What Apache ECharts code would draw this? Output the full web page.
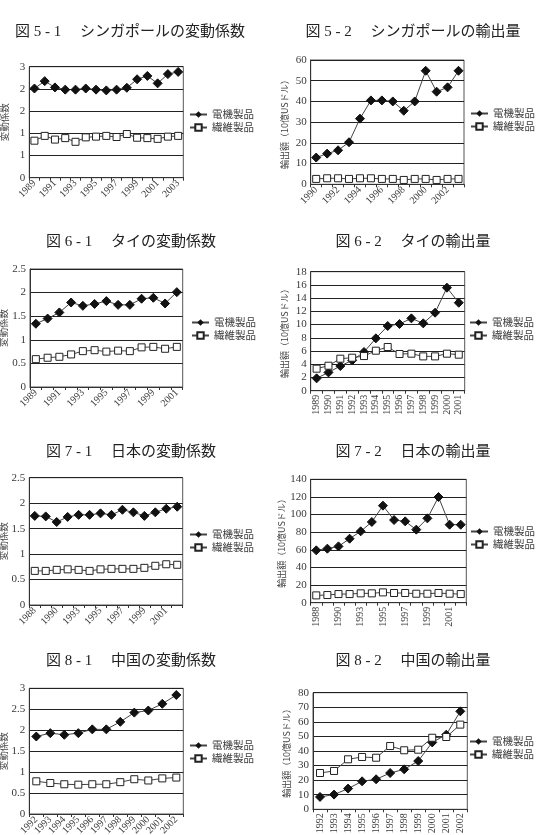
<!DOCTYPE html>
<html><head><meta charset="utf-8">
<script src="https://cdn.jsdelivr.net/npm/echarts@6/dist/echarts.min.js"></script>
<style>html,body{margin:0;padding:0;background:#fff}#c{width:538px;height:835px}</style>
</head><body><div id="c"></div>
<script>
// ---- data ----
const seriesNames = ['電機製品', '繊維製品'];
const titles = [
  '図 5 - 1　 シンガポールの変動係数', '図 5 - 2　 シンガポールの輸出量',
  '図 6 - 1　 タイの変動係数', '図 6 - 2　 タイの輸出量',
  '図 7 - 1　 日本の変動係数', '図 7 - 2　 日本の輸出量',
  '図 8 - 1　 中国の変動係数', '図 8 - 2　 中国の輸出量'
];
const yNameCV = '変動係数';
const yNameExp = '輸出額（10億USドル）';

const yearsSG51 = ['1989','1990','1991','1992','1993','1994','1995','1996','1997','1998','1999','2000','2001','2002','2003'];
const yearsSG52 = ['1990','1991','1992','1993','1994','1995','1996','1997','1998','1999','2000','2001','2002','2003'];
const yearsTH = ['1989','1990','1991','1992','1993','1994','1995','1996','1997','1998','1999','2000','2001'];
const yearsJP = ['1988','1989','1990','1991','1993','1994','1995','1996','1997','1998','1999','2000','2001','2002'];
const yearsCN = ['1992','1993','1994','1995','1996','1997','1998','1999','2000','2001','2002'];

const sgCvElec = [2.41,2.61,2.44,2.38,2.38,2.41,2.38,2.36,2.38,2.43,2.66,2.75,2.55,2.80,2.86];
const sgCvTex  = [1.00,1.13,1.03,1.07,0.97,1.09,1.11,1.13,1.10,1.18,1.08,1.07,1.05,1.11,1.13];
const sgExpElec = [12.9,14.8,16.4,20.3,31.7,40.5,40.5,40.0,35.5,40.0,54.8,44.7,46.8,54.8];
const sgExpTex  = [2.6,2.9,2.9,2.6,2.9,2.9,2.6,2.6,2.1,2.6,2.6,2.1,2.6,2.6];
const thCvElec = [1.34,1.45,1.58,1.79,1.72,1.76,1.82,1.74,1.74,1.87,1.89,1.77,2.01];
const thCvTex  = [0.59,0.62,0.64,0.69,0.76,0.78,0.75,0.77,0.76,0.84,0.85,0.81,0.85];
const thExpElec = [1.87,2.77,3.73,4.59,5.85,7.92,9.78,10.09,10.94,10.19,11.8,15.58,13.31];
const thExpTex  = [3.33,3.78,4.84,4.99,5.24,6.05,6.61,5.55,5.6,5.19,5.19,5.6,5.45];
const jpCvElec = [1.75,1.74,1.63,1.73,1.77,1.77,1.80,1.77,1.87,1.82,1.75,1.82,1.89,1.93];
const jpCvTex  = [0.67,0.67,0.69,0.70,0.69,0.67,0.70,0.71,0.71,0.71,0.73,0.77,0.80,0.79];
const jpExpElec = [59.4,61.3,63.9,72.6,81.0,91.6,110.1,93.8,92.3,82.9,95.7,119.9,88.5,88.5];
const jpExpTex  = [8.3,8.7,9.8,9.8,10.6,10.6,11.7,11.0,11.0,10.2,10.2,11.0,10.2,9.8];
const cnCvElec = [1.85,1.93,1.89,1.93,2.02,2.02,2.20,2.42,2.47,2.63,2.84];
const cnCvTex  = [0.78,0.74,0.71,0.70,0.71,0.71,0.76,0.83,0.80,0.85,0.87];
const cnExpElec = [8.5,10.1,14.2,19.2,20.6,24.9,27.4,33.1,45.9,51.2,67.2];
const cnExpTex  = [24.9,26.3,34.3,35.9,35.4,43.4,40.5,40.9,49.1,49.6,58.1];

// y-axis scales: [min, max, interval]
const yScales = [[0,3,0.6],[0,60,10],[0,2.5,0.5],[0,18,2],[0,2.5,0.5],[0,140,20],[0,3,0.5],[0,80,10]];

// ---- layout ----
const panels = [
  {cats: yearsSG51, elec: sgCvElec, tex: sgCvTex, yName: yNameCV, grid:[29.3,66.7,154,111], tx:125, ty:20, rot:45, ivl:1, lg:[189,109]},
  {cats: yearsSG52, elec: sgExpElec, tex: sgExpTex, yName: yNameExp, grid:[310.7,60,153.3,124.3], tx:408, ty:20, rot:45, ivl:1, lg:[470,108]},
  {cats: yearsTH, elec: thCvElec, tex: thCvTex, yName: yNameCV, grid:[30,269,152.7,118], tx:126, ty:230, rot:45, ivl:1, lg:[191,317]},
  {cats: yearsTH, elec: thExpElec, tex: thExpTex, yName: yNameExp, grid:[310.7,271.7,154,119], tx:408, ty:230, rot:90, ivl:0, lg:[469,317]},
  {cats: yearsJP, elec: jpCvElec, tex: jpCvTex, yName: yNameCV, grid:[29.3,477.7,153.4,127.3], tx:126, ty:440, rot:45, ivl:1, lg:[189,529]},
  {cats: yearsJP, elec: jpExpElec, tex: jpExpTex, yName: yNameExp, grid:[310.7,479.3,155.6,123.4], tx:408, ty:440, rot:90, ivl:1, lg:[470,526]},
  {cats: yearsCN, elec: cnCvElec, tex: cnCvTex, yName: yNameCV, grid:[29.3,688.3,154,125.7], tx:126, ty:649, rot:45, ivl:0, lg:[189,740]},
  {cats: yearsCN, elec: cnExpElec, tex: cnExpTex, yName: yNameExp, grid:[313,692.7,154.3,116.6], tx:408, ty:649, rot:90, ivl:0, lg:[469,736]}
];

const serif = "'Liberation Serif', 'Noto Sans CJK JP', serif";
const cjk = "'Noto Sans CJK JP', sans-serif";
const textCol = '#3a3a3a';

const option = {
  backgroundColor: '#fff',
  animation: false,
  title: [], grid: [], xAxis: [], yAxis: [], legend: [], series: []
};

panels.forEach((p, i) => {
  option.title.push({
    text: titles[i], left: p.tx, top: p.ty, textAlign: 'center',
    textStyle: {fontFamily: serif, fontSize: 15, fontWeight: 'normal', color: '#222'}
  });
  option.grid.push({
    left: p.grid[0], top: p.grid[1], width: p.grid[2], height: p.grid[3],
    show: true, borderColor: '#555', borderWidth: 1, backgroundColor: 'transparent',
    containLabel: false, outerBoundsMode: 'none'
  });
  option.xAxis.push({
    type: 'category', gridIndex: i, data: p.cats, boundaryGap: true,
    axisLine: {show: true, lineStyle: {color: '#333', width: 1}},
    axisTick: {show: true, interval: 0, length: 3, lineStyle: {color: '#333'}},
    axisLabel: {interval: p.ivl, rotate: p.rot, margin: 4, fontFamily: serif, fontSize: 10, color: textCol},
    splitLine: {show: false}
  });
  const sc = yScales[i];
  const ax = {
    type: 'value', gridIndex: i, min: sc[0], max: sc[1], interval: sc[2],
    name: p.yName, nameLocation: 'middle', nameRotate: 90,
    nameGap: i % 2 === 0 ? 20 : 22,
    nameTextStyle: {fontFamily: cjk, fontSize: i % 2 === 0 ? 9.5 : 9, color: '#444'},
    axisLine: {show: true, lineStyle: {color: '#333'}},
    axisTick: {show: false},
    axisLabel: {margin: 4, fontFamily: serif, fontSize: 11, color: textCol},
    splitLine: {show: true, lineStyle: {color: '#222', width: 1}}
  };
  if (i === 0) ax.axisLabel.formatter = v => String(Math.round(v));
  option.yAxis.push(ax);
  option.legend.push({
    orient: 'vertical', left: p.lg[0], top: p.lg[1], itemGap: 2,
    itemWidth: 17, itemHeight: 8, padding: 0,
    data: seriesNames,
    textStyle: {fontFamily: cjk, fontSize: 10.5, lineHeight: 11, color: textCol}
  });
  option.series.push({
    name: seriesNames[0], type: 'line', xAxisIndex: i, yAxisIndex: i, data: p.elec,
    symbol: 'diamond', symbolSize: 9, showSymbol: true, showAllSymbol: true,
    lineStyle: {color: '#444', width: 1}, itemStyle: {color: '#111', borderColor: '#111'}
  });
  option.series.push({
    name: seriesNames[1], type: 'line', xAxisIndex: i, yAxisIndex: i, data: p.tex,
    symbol: 'rect', symbolSize: 7, showSymbol: true, showAllSymbol: true,
    lineStyle: {color: '#444', width: 1}, itemStyle: {color: '#fff', borderColor: '#222', borderWidth: 1}
  });
});

const chart = echarts.init(document.getElementById('c'), null, {renderer: 'canvas'});
chart.setOption(option);
</script></body></html>
